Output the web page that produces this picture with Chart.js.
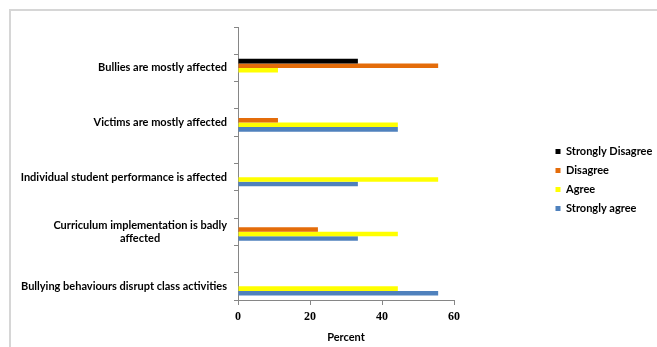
<!DOCTYPE html>
<html>
<head>
<meta charset="utf-8">
<script src="https://cdn.jsdelivr.net/npm/chart.js@4"></script>
<style>
  body { margin: 0; background: #fff; }
  #wrap { position: relative; width: 657px; height: 347px; }
  #frame { position: absolute; left: 9px; top: 9px; right: 0; bottom: 0;
    border-top: 2px solid #d6d6d6; border-left: 2px solid #d6d6d6; pointer-events: none; }
</style>
</head>
<body>
<div id="wrap">
  <canvas id="myChart" width="657" height="347"></canvas>
  <div id="frame"></div>
</div>
<script>
// blank rows sit between the statements, like in the original sheet
var categories = ['', 'Bullies are mostly affected', '', 'Victims are mostly affected', '',
  'Individual student performance is affected', '', ['Curriculum implementation is badly', 'affected'], '',
  'Bullying behaviours disrupt class activities'];
var stronglyDisagree = [null, 33.3, null, 0, null, 0, null, 0, null, 0];
var disagree = [null, 55.6, null, 11.1, null, 0, null, 22.2, null, 0];
var agree = [null, 11.1, null, 44.4, null, 55.6, null, 44.4, null, 44.4];
var stronglyAgree = [null, 0, null, 44.4, null, 33.3, null, 33.3, null, 55.6];
var xTicks = [0, 20, 40, 60];

var labelFont = { family: 'Lato', size: 11, weight: 'bold' };

// two-line labels: pad the short line so it sits centred under the long one
var measureCtx = document.createElement('canvas').getContext('2d');
measureCtx.font = 'bold 11px Lato';
function centreLines(label) {
  if (!Array.isArray(label)) return label;
  var widest = Math.max.apply(null, label.map(function (l) { return measureCtx.measureText(l).width; }));
  var sp = measureCtx.measureText(' ').width;
  return label.map(function (l) {
    var n = Math.round((widest - measureCtx.measureText(l).width) / 2 / sp);
    return l + ' '.repeat(n);
  });
}

var canvasElement = document.getElementById('myChart');
var config = {
  type: 'bar',
  data: {
    labels: categories,
    datasets: [
      { label: 'Strongly Disagree', data: stronglyDisagree, backgroundColor: '#000000' },
      { label: 'Disagree', data: disagree, backgroundColor: '#E46C0A' },
      { label: 'Agree', data: agree, backgroundColor: '#FFFF00' },
      { label: 'Strongly agree', data: stronglyAgree, backgroundColor: '#4F81BD' }
    ]
  },
  options: {
    indexAxis: 'y',
    responsive: false,
    animation: false,
    events: [],
    categoryPercentage: 0.667,
    barPercentage: 1,
    layout: { padding: { top: 13, left: 0, right: 0, bottom: 0 } },
    scales: {
      y: {
        type: 'category',
        position: 'left',
        grid: { display: true, drawOnChartArea: false, tickLength: 4, color: '#868686' },
        border: { display: true, color: '#868686' },
        ticks: {
          color: '#000', font: labelFont, padding: 7, autoSkip: false,
          callback: function (v, i) { return centreLines(categories[i]); }
        },
        afterFit: function (s) { s.width = 238; }
      },
      x: {
        type: 'linear',
        position: 'bottom',
        min: 0,
        max: 60,
        afterBuildTicks: function (s) { s.ticks = xTicks.map(function (v) { return { value: v }; }); },
        grid: { display: true, drawOnChartArea: false, tickLength: 5, color: '#868686' },
        border: { display: true, color: '#868686' },
        ticks: { color: '#000', font: { family: 'Liberation Serif', size: 12, weight: 'bold' }, padding: 5 },
        title: { display: true, text: 'Percent', color: '#000', font: labelFont, padding: { top: 0, bottom: 3 } },
        afterFit: function (s) { s.height = 47; }
      },
      topGap: {
        axis: 'x',
        type: 'linear',
        position: 'top',
        display: true,
        grid: { display: false },
        border: { display: false },
        ticks: { display: false },
        afterFit: function (s) { s.height = 14; }
      },
      rightGap: {
        axis: 'y',
        type: 'category',
        position: 'right',
        display: true,
        grid: { display: false },
        border: { display: false },
        ticks: { display: false },
        afterFit: function (s) { s.width = s.chart.width - 454 - s.chart.legend.width; }
      }
    },
    plugins: {
      legend: {
        position: 'right',
        labels: { boxWidth: 5, boxHeight: 5, padding: 8, color: '#000', font: labelFont }
      },
      tooltip: { enabled: false }
    }
  }
};
var myChart = new Chart(canvasElement, config);
</script>
</body>
</html>
